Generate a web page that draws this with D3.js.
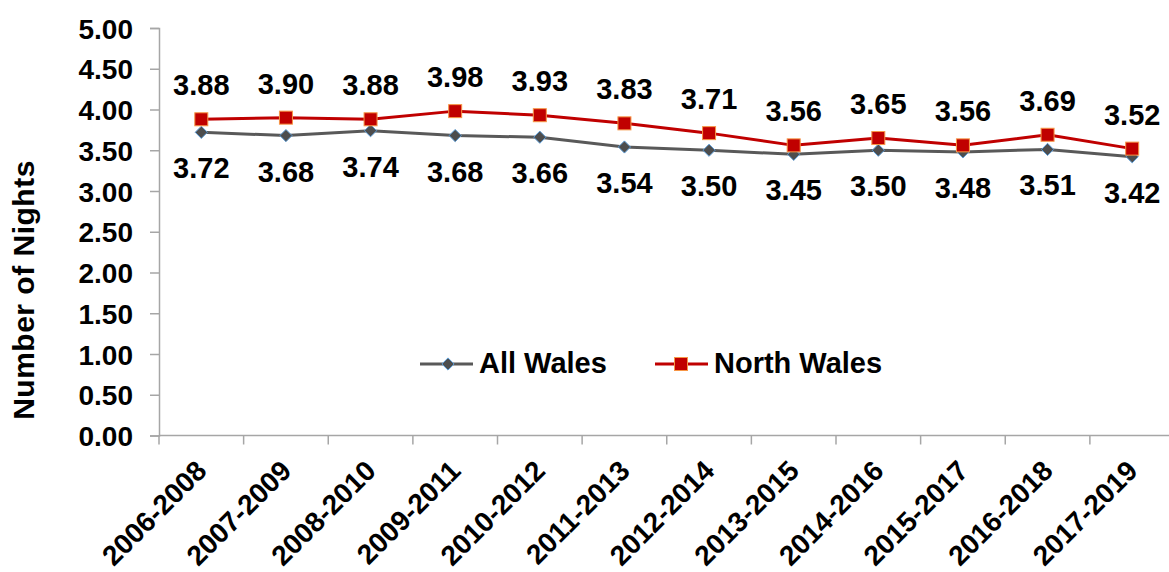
<!DOCTYPE html>
<html>
<head>
<meta charset="utf-8">
<script src="https://cdn.jsdelivr.net/npm/d3@7"></script>
<style>
  html, body { margin: 0; padding: 0; background: #fff; }
  svg { display: block; font-family: "Liberation Sans", Arial, sans-serif; font-weight: bold; }
</style>
</head>
<body>
<svg id="chart" width="1169" height="572"></svg>
<script>
// Three-year rolling periods
const periods = ["2006-2008","2007-2009","2008-2010","2009-2011","2010-2012","2011-2013",
                 "2012-2014","2013-2015","2014-2016","2015-2017","2016-2018","2017-2019"];
// Average number of nights per trip
const allWales   = [3.72,3.68,3.74,3.68,3.66,3.54,3.50,3.45,3.50,3.48,3.51,3.42];
const northWales = [3.88,3.90,3.88,3.98,3.93,3.83,3.71,3.56,3.65,3.56,3.69,3.52];
const yTicks = [0,0.5,1,1.5,2,2.5,3,3.5,4,4.5,5];

const svg = d3.select("#chart");
const plotLeft = 159, plotRight = 1174.5, plotTop = 28, plotBottom = 435.5;

const x = d3.scaleBand().domain(periods).range([plotLeft, plotRight]).paddingInner(0).paddingOuter(0);
const y = d3.scaleLinear().domain([0, 5]).range([plotBottom, plotTop]);
const cx = d => x(d) + x.bandwidth() / 2;

const axisColor = "#a6a6a6";
const font = "'Liberation Sans', Arial, sans-serif";

// Y axis
const yAxis = svg.append("g").attr("transform", `translate(${plotLeft},0)`)
  .call(d3.axisLeft(y).tickValues(yTicks).tickFormat(d3.format(".2f")).tickSize(9).tickPadding(17));
yAxis.select(".domain").attr("stroke", axisColor).attr("stroke-width", 1.5);
yAxis.selectAll(".tick line").attr("stroke", axisColor).attr("stroke-width", 1.5);
yAxis.selectAll(".tick text").attr("fill", "#000").attr("dy", "0.36em")
  .style("font-size", "28px").style("font-family", font).style("font-weight", "bold");

// X axis with boundary ticks between categories
const xg = svg.append("g").attr("transform", `translate(0,${plotBottom})`);
xg.append("line").attr("x1", plotLeft).attr("x2", 1169).attr("y1", 0).attr("y2", 0)
  .attr("stroke", axisColor).attr("stroke-width", 1.5);
xg.selectAll("line.b").data(periods).join("line").attr("class", "b")
  .attr("x1", d => x(d)).attr("x2", d => x(d)).attr("y1", 0).attr("y2", 9)
  .attr("stroke", axisColor).attr("stroke-width", 1.5);
xg.selectAll("text").data(periods).join("text")
  .attr("transform", d => `translate(${cx(d) + 7},${37}) rotate(-45)`)
  .attr("text-anchor", "end")
  .style("font-size", "28px").attr("fill", "#000")
  .text(d => d);

// Y axis title
svg.append("text")
  .attr("transform", "translate(34,290) rotate(-90)")
  .attr("text-anchor", "middle").style("font-size", "30px").style("letter-spacing", "0.5px")
  .attr("fill", "#000")
  .text("Number of Nights");

const line = d3.line().x((d, i) => cx(periods[i])).y(d => y(d));

// All Wales series
svg.append("path").datum(allWales).attr("d", line)
  .attr("fill", "none").attr("stroke", "#595959").attr("stroke-width", 3);
svg.selectAll("path.dia").data(allWales).join("path").attr("class", "dia")
  .attr("d", d3.symbol(d3.symbolDiamond2, 95))
  .attr("transform", (d, i) => `translate(${cx(periods[i])},${y(d)})`)
  .attr("fill", "#4d4d4d").attr("stroke", "#5b9bd5").attr("stroke-width", 1);

// North Wales series
svg.append("path").datum(northWales).attr("d", line)
  .attr("fill", "none").attr("stroke", "#c00000").attr("stroke-width", 3);
svg.selectAll("rect.sq").data(northWales).join("rect").attr("class", "sq")
  .attr("x", (d, i) => cx(periods[i]) - 6.5).attr("y", d => y(d) - 6.5)
  .attr("width", 13).attr("height", 13)
  .attr("fill", "#c00000").attr("stroke", "#f79646").attr("stroke-width", 1);

// Data labels
svg.selectAll("text.nl").data(northWales).join("text").attr("class", "nl")
  .attr("x", (d, i) => cx(periods[i])).attr("y", d => y(d) - 24)
  .attr("text-anchor", "middle")
  .style("font-size", "29px").attr("fill", "#000")
  .text(d => d.toFixed(2));
svg.selectAll("text.al").data(allWales).join("text").attr("class", "al")
  .attr("x", (d, i) => cx(periods[i])).attr("y", d => y(d) + 46)
  .attr("text-anchor", "middle")
  .style("font-size", "29px").attr("fill", "#000")
  .text(d => d.toFixed(2));

// Legend
const leg = svg.append("g");
const ly = 364;
leg.append("line").attr("x1", 420).attr("x2", 473).attr("y1", ly).attr("y2", ly)
  .attr("stroke", "#595959").attr("stroke-width", 3);
leg.append("path").attr("d", d3.symbol(d3.symbolDiamond2, 95))
  .attr("transform", `translate(448,${ly})`)
  .attr("fill", "#4d4d4d").attr("stroke", "#5b9bd5").attr("stroke-width", 1);
leg.append("text").attr("x", 479).attr("y", 373)
  .style("font-size", "29px").attr("fill", "#000").text("All Wales");
leg.append("line").attr("x1", 655).attr("x2", 708).attr("y1", ly).attr("y2", ly)
  .attr("stroke", "#c00000").attr("stroke-width", 3);
leg.append("rect").attr("x", 681 - 6.5).attr("y", ly - 6.5).attr("width", 13).attr("height", 13)
  .attr("fill", "#c00000").attr("stroke", "#f79646").attr("stroke-width", 1);
leg.append("text").attr("x", 714).attr("y", 373)
  .style("font-size", "29px").attr("fill", "#000").text("North Wales");
</script>
</body>
</html>
